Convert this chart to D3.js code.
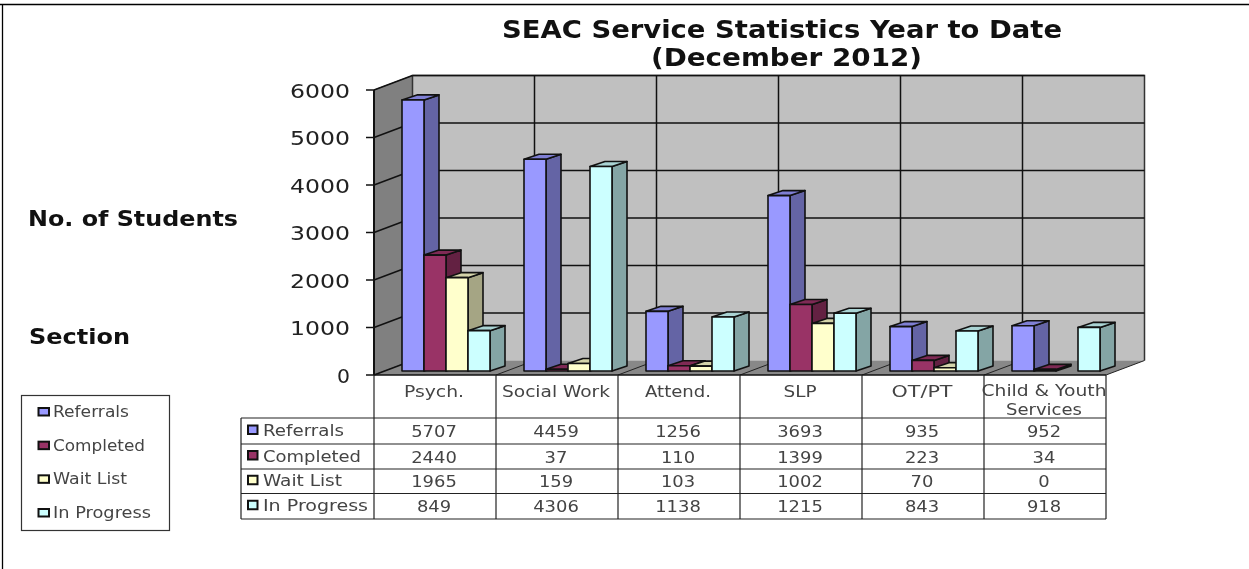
<!DOCTYPE html>
<html><head><meta charset="utf-8">
<style>html,body{margin:0;padding:0;background:#fff}svg{display:block}</style>
<script src="https://cdn.jsdelivr.net/npm/d3@7/dist/d3.min.js"></script>
</head><body><svg id="c" width="1249" height="569"></svg>
<script>
const categories=["Psych.","Social Work","Attend.","SLP","OT/PT","Child & Youth Services"];
const seriesNames=["Referrals","Completed","Wait List","In Progress"];
const referrals=[5707,4459,1256,3693,935,952];
const completed=[2440,37,110,1399,223,34];
const waitList=[1965,159,103,1002,70,0];
const inProgress=[849,4306,1138,1215,843,918];
const seriesValues=[referrals,completed,waitList,inProgress];
const frontColors=["#9999ff","#993366","#ffffcc","#ccffff"];
const sideColors=["#6464a5","#632142","#a5a584","#84a5a5"];
const topColors=["#7f7fd4","#7f2a55","#d4d4aa","#aad4d4"];
const yTicks=[0,1000,2000,3000,4000,5000,6000];
const titleLines=["SEAC Service Statistics Year to Date","(December 2012)"];

const svg=d3.select("#c");
const font="'DejaVu Sans',Verdana,sans-serif";
const txtCol="#444";
const x=d3.scaleBand().domain(d3.range(categories.length)).range([374,1106]);
const y=d3.scaleLinear().domain([0,6000]).range([375,90]);
const depthX=38.5,depthY=-14.5;
const inner=x.bandwidth()-34;
const barW=inner/4, barDx=15, barDy=-5, barShiftX=11, barShiftY=-4;
const poly=(g,pts,fill,sw=1.6,stroke="#111")=>g.append("polygon").attr("points",pts.map(p=>p.join(",")).join(" ")).attr("fill",fill).attr("stroke",stroke).attr("stroke-width",sw).attr("stroke-linejoin","round");
function text(g,s,px,py,size,w,anchor,opts={}){
  const t=g.append("text").attr("x",px).attr("y",py).attr("font-family",font).attr("font-size",size).attr("fill",opts.fill||txtCol).attr("text-anchor",anchor).text(s);
  if(opts.bold)t.attr("font-weight","bold");
  if(w)t.attr("textLength",w).attr("lengthAdjust","spacingAndGlyphs");
  return t;
}
const root=svg.append("g").style("filter","blur(0.4px)");
// page frame
root.append("path").attr("d","M0,4.5H1249M2.5,4.5V569").attr("fill","none").attr("stroke","#000").attr("stroke-width",1.3);
// title
titleLines.forEach((s,i)=>text(root,s,i?786.5:782,i?65.5:38,25,i?271:560,"middle",{bold:true,fill:"#111"}));
text(root,"No. of Students",28,226,21,210,"start",{bold:true,fill:"#111"});
text(root,"Section",29,344,21,101,"start",{bold:true,fill:"#111"});
// walls
const L=x.range()[0],R=x.range()[1],B=y(0),T=y(6000);
const plot=root.append("g");
poly(plot,[[L,B],[L,T],[L+depthX,T+depthY],[L+depthX,B+depthY]],"#808080",1,"#666");
plot.append("rect").attr("x",L+depthX).attr("y",T+depthY).attr("width",R-L).attr("height",B-T).attr("fill","#c0c0c0");
plot.append("path").attr("d",`M${L+depthX},${B+depthY}V${T+depthY}H${R+depthX}V${B+depthY}`).attr("fill","none").attr("stroke","#333").attr("stroke-width",1.5);
poly(plot,[[L,B],[R,B],[R+depthX,B+depthY],[L+depthX,B+depthY]],"#888888",0,"none");
yTicks.forEach(t=>{
  if(t>0)plot.append("line").attr("x1",L+depthX).attr("x2",R+depthX).attr("y1",y(t)+depthY).attr("y2",y(t)+depthY).attr("stroke","#111").attr("stroke-width",1.5);
  plot.append("line").attr("x1",L).attr("x2",L+depthX).attr("y1",y(t)).attr("y2",y(t)+depthY).attr("stroke","#111").attr("stroke-width",1.5);
  plot.append("line").attr("x1",L-8).attr("x2",L).attr("y1",y(t)).attr("y2",y(t)).attr("stroke","#111").attr("stroke-width",1.5);
  text(plot,String(t),350,y(t)+7.5,20,t?60:13,"end",{fill:"#222"});
});
d3.range(categories.length+1).forEach(i=>{
  const px=i<categories.length?x(i):R;
  if(i>0&&i<categories.length)plot.append("line").attr("x1",px+depthX).attr("x2",px+depthX).attr("y1",T+depthY).attr("y2",B+depthY).attr("stroke","#111").attr("stroke-width",1.5);
  if(i>0)plot.append("line").attr("x1",px).attr("x2",px+depthX).attr("y1",B).attr("y2",B+depthY).attr("stroke","#222").attr("stroke-width",1);
});
plot.append("line").attr("x1",L).attr("x2",L).attr("y1",T).attr("y2",B).attr("stroke","#111").attr("stroke-width",2);
plot.append("line").attr("x1",L).attr("x2",R).attr("y1",B).attr("y2",B).attr("stroke","#111").attr("stroke-width",1.5);
// bars
categories.forEach((c,ci)=>{
  seriesValues.forEach((vals,si)=>{
    const v=vals[ci]; if(v===0)return;
    const x0=x(ci)+17+barShiftX+si*barW, x1=x0+barW, y0=B+barShiftY, y1=y(v)+barShiftY;
    const g=plot.append("g");
    poly(g,[[x1,y1],[x1+barDx,y1+barDy],[x1+barDx,y0+barDy],[x1,y0]],sideColors[si]);
    poly(g,[[x0,y1],[x0+barDx,y1+barDy],[x1+barDx,y1+barDy],[x1,y1]],topColors[si]);
    poly(g,[[x0,y0],[x0,y1],[x1,y1],[x1,y0]],frontColors[si]);
  });
});
// data table
const tbl=root.append("g");
const rows=[418,444,469,493.5,519];
const line=(a,b,c,d,w=1.2)=>tbl.append("line").attr("x1",a).attr("y1",b).attr("x2",c).attr("y2",d).attr("stroke","#222").attr("stroke-width",w);
rows.forEach(r=>line(241,r,R,r));
line(241,418,241,519);
d3.range(categories.length+1).forEach(i=>{const px=i<categories.length?x(i):R;line(px,B,px,519);});
const headW=[60,108,66,33,61,125];
categories.forEach((c,i)=>{
  const cx=x(i)+x.bandwidth()/2;
  if(c.startsWith("Child")){
    text(tbl,"Child & Youth",cx-1,396,16,125,"middle");
    text(tbl,"Services",cx-1,415,16,76,"middle");
  } else text(tbl,c,cx-1,397,16,headW[i],"middle");
});
seriesNames.forEach((s,si)=>{
  const ry=(rows[si]+rows[si+1])/2;
  tbl.append("rect").attr("x",248).attr("y",ry-5.5).attr("width",9.5).attr("height",8.5).attr("fill",frontColors[si]).attr("stroke","#111").attr("stroke-width",2);
  text(tbl,s,263,ry+5,16,[81,98,79,105][si],"start");
  seriesValues[si].forEach((v,ci)=>text(tbl,String(v),x(ci)+x.bandwidth()/2-1,ry+6,16,String(v).length*11.4,"middle"));
});
// legend
const leg=root.append("g");
leg.append("rect").attr("x",21.5).attr("y",395.5).attr("width",148).attr("height",135).attr("fill","#fff").attr("stroke","#333").attr("stroke-width",1.2);
const legY=d3.scalePoint().domain(seriesNames).range([412,513]);
seriesNames.forEach((s,si)=>{
  const ly=legY(s);
  leg.append("rect").attr("x",38.5).attr("y",ly-4).attr("width",10.5).attr("height",7.5).attr("fill",frontColors[si]).attr("stroke","#111").attr("stroke-width",2);
  text(leg,s,53,ly+5,16,[76,92,74,98][si],"start");
});
</script></body></html>
